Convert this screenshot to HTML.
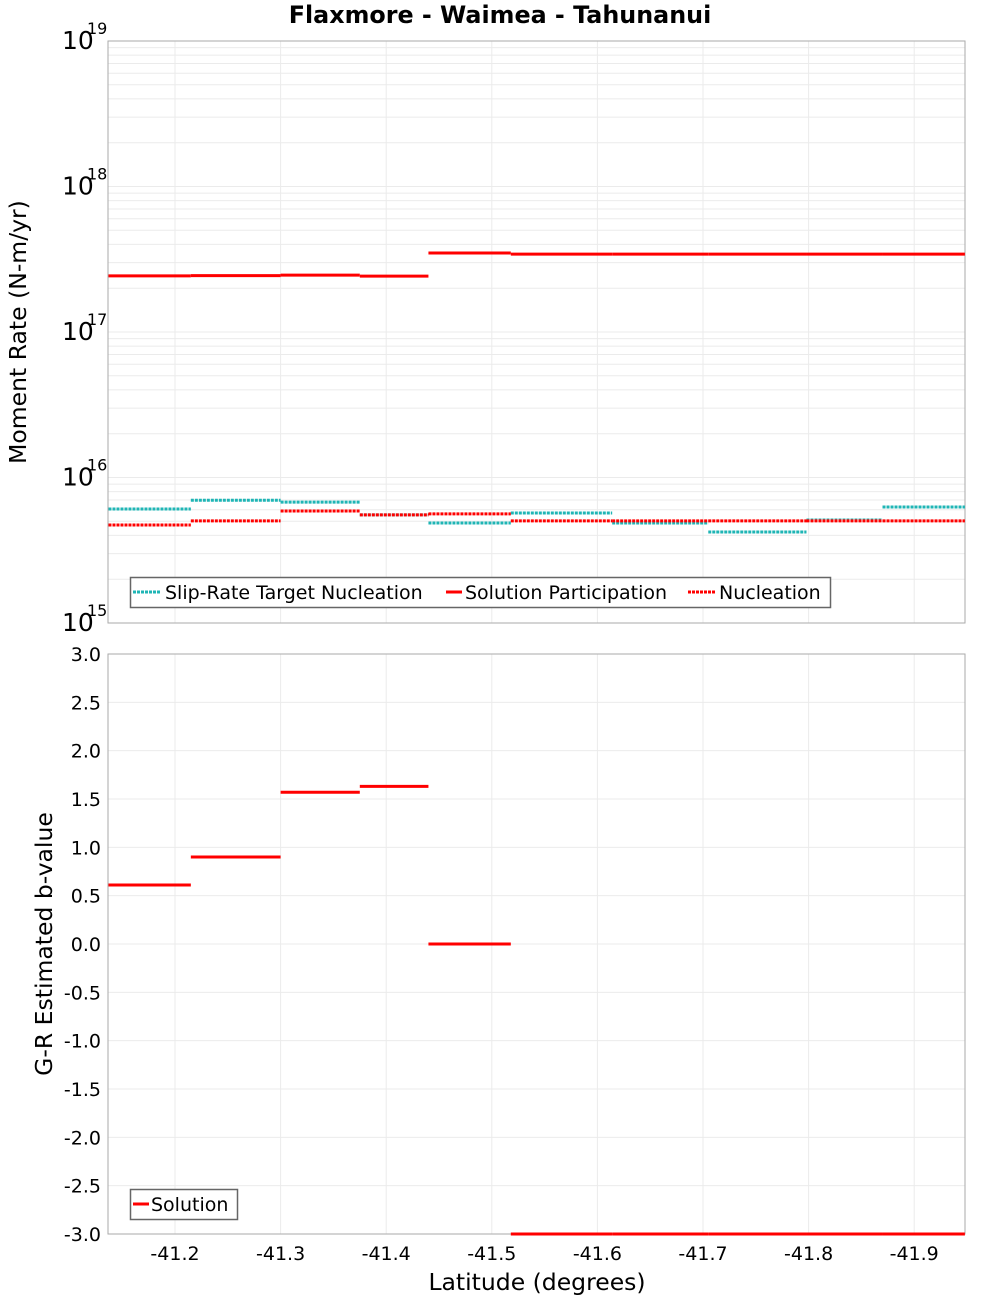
<!DOCTYPE html>
<html><head><meta charset="utf-8"><style>
html,body{margin:0;padding:0;background:#fff;}
svg{display:block;font-family:"DejaVu Sans","Liberation Sans",sans-serif;}
</style></head><body>
<svg id="c" width="1000" height="1300" xmlns="http://www.w3.org/2000/svg">
<text x="500" y="23" text-anchor="middle" font-size="23.8" font-weight="bold">Flaxmore - Waimea - Tahunanui</text>
<g id="topPanel"></g>
<g id="botPanel"></g>
<text x="26" y="332" transform="rotate(-90 26 332)" text-anchor="middle" font-size="23.5">Moment Rate (N-m/yr)</text>
<text x="52" y="944" transform="rotate(-90 52 944)" text-anchor="middle" font-size="23.5">G-R Estimated b-value</text>
<text x="537" y="1290" text-anchor="middle" font-size="23.5">Latitude (degrees)</text>
</svg>
<script>
const binEdges=[-41.137,-41.215,-41.300,-41.375,-41.440,-41.518,-41.614,-41.705,-41.798,-41.870,-41.948];
const participation=[2.43e17,2.44e17,2.46e17,2.42e17,3.49e17,3.43e17,3.43e17,3.43e17,3.43e17,3.43e17];
const targetNucleation=[6.07e15,6.98e15,6.77e15,5.53e15,4.87e15,5.7e15,4.87e15,4.22e15,5.1e15,6.27e15];
const nucleation=[4.72e15,5.03e15,5.88e15,5.53e15,5.62e15,5.03e15,5.03e15,5.03e15,5.03e15,5.03e15];
const bValues=[0.61,0.90,1.57,1.63,0.0,-3.0,-3.0,-3.0,-3.0,-3.0];
const xTicks=[-41.2,-41.3,-41.4,-41.5,-41.6,-41.7,-41.8,-41.9];
const topDecades=[15,16,17,18,19];
const bTicks=[3.0,2.5,2.0,1.5,1.0,0.5,0.0,-0.5,-1.0,-1.5,-2.0,-2.5,-3.0];

const NS='http://www.w3.org/2000/svg';
const L=108,R=965;
function X(lat){return 175+(-41.2-lat)/0.1*105.6;}
const T0=41,T1=623,B0=654,B1=1234;
function YT(v){return T1-(Math.log10(v)-15)/4*(T1-T0);}
function YB(v){return B1-(v+3)/6*(B1-B0);}
function mk(p,tag,a,txt){const e=document.createElementNS(NS,tag);for(const k in a)e.setAttribute(k,a[k]);if(txt!==undefined)e.textContent=txt;p.appendChild(e);return e;}
const topG=document.getElementById('topPanel'),botG=document.getElementById('botPanel');
for(let d=15;d<19;d++)for(let m=1;m<10;m++){const y=YT(m*Math.pow(10,d));
 const g=mk(topG,'line',{x1:L,x2:R,y1:y,y2:y,stroke:'#ebebeb','stroke-width':1});
 
 }
for(const t of xTicks){const x=X(t);
 const g=mk(topG,'line',{x1:x,x2:x,y1:T0,y2:T1,stroke:'#ebebeb'});
 
 
 const g2=mk(botG,'line',{x1:x,x2:x,y1:B0,y2:B1,stroke:'#ebebeb'});
 
 
 const lb=mk(botG,'text',{x:x,y:1260,'text-anchor':'middle','font-size':19},(t).toFixed(1));
 
 }
for(const d of topDecades){const y=YT(Math.pow(10,d));
 const g=mk(topG,'g',{});
 
 
 mk(g,'text',{x:62,y:y+8,'font-size':25},'10');
 mk(g,'text',{x:87,y:y-7,'font-size':16},String(d));}
for(const t of bTicks){const y=YB(t);
 const g=mk(botG,'line',{x1:L,x2:R,y1:y,y2:y,stroke:'#ebebeb'});
 
 
 const lb=mk(botG,'text',{x:101,y:y+7,'text-anchor':'end','font-size':19},t.toFixed(1));
 
 }
const f1=mk(topG,'rect',{x:L,y:T0,width:R-L,height:T1-T0,fill:'none',stroke:'#aaa'});


const f2=mk(botG,'rect',{x:L,y:B0,width:R-L,height:B1-B0,fill:'none',stroke:'#aaa'});


function steps(p,vals,fy,color,dash,name){for(let i=0;i<vals.length;i++){const y=fy(vals[i]);
 const a={x1:X(binEdges[i]),x2:X(binEdges[i+1]),y1:y,y2:y,stroke:color,'stroke-width':3};
 if(dash)a['stroke-dasharray']='3,1';
 const e=mk(p,'line',a);
 
 }}
steps(topG,targetNucleation,YT,'#1fb5b5',true,'target-nucleation-step');
steps(topG,nucleation,YT,'#f00',true,'nucleation-step');
steps(topG,participation,YT,'#f00',false,'participation-step');
steps(botG,bValues,YB,'#f00',false,'b-value-step');
const lg=mk(topG,'g',{});


mk(lg,'rect',{x:130.5,y:577.5,width:700,height:30,fill:'#fff',stroke:'#666','stroke-width':1.5});
mk(lg,'line',{x1:133,x2:161,y1:592,y2:592,stroke:'#1fb5b5','stroke-width':3,'stroke-dasharray':'3,1'});
mk(lg,'text',{x:165,y:599,'font-size':19},'Slip-Rate Target Nucleation');
mk(lg,'line',{x1:446,x2:462,y1:592,y2:592,stroke:'#f00','stroke-width':3});
mk(lg,'text',{x:465,y:599,'font-size':19},'Solution Participation');
mk(lg,'line',{x1:688,x2:716,y1:592,y2:592,stroke:'#f00','stroke-width':3,'stroke-dasharray':'3,1'});
mk(lg,'text',{x:719,y:599,'font-size':19},'Nucleation');
const lg2=mk(botG,'g',{});


mk(lg2,'rect',{x:130.5,y:1189.5,width:107,height:30,fill:'#fff',stroke:'#666','stroke-width':1.5});
mk(lg2,'line',{x1:133,x2:149,y1:1204,y2:1204,stroke:'#f00','stroke-width':3});
mk(lg2,'text',{x:151,y:1211,'font-size':19},'Solution');
</script>
</body></html>
